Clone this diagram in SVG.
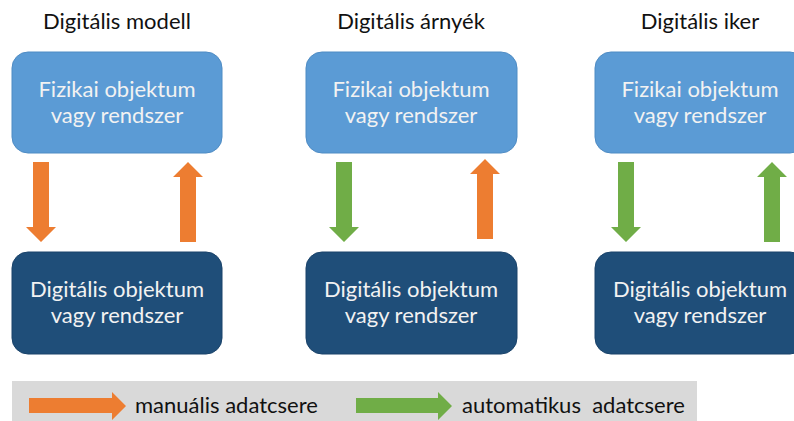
<svg xmlns="http://www.w3.org/2000/svg" width="794" height="421" viewBox="0 0 794 421">
<style>
.t{font-family:Lato,"Open Sans","Liberation Sans",sans-serif;font-size:22px;text-anchor:middle}
.title{fill:#111}
.light{fill:#5B9BD5;stroke:#4F8CC4;stroke-width:1}
.dark{fill:#1F4E79;stroke:#1A436A;stroke-width:1}
.wt{fill:#F2F2F2}
.or{fill:#ED7D31}
.gr{fill:#70AD47}
.lg{font-family:Lato,"Open Sans","Liberation Sans",sans-serif;font-size:22px;fill:#111}
</style>
<rect width="794" height="421" fill="#fff"/>
<g id="titles">
<text class="t title" x="117" y="29">Digitális modell</text>
<text class="t title" x="411" y="29">Digitális árnyék</text>
<text class="t title" x="700" y="29">Digitális iker</text>
</g>
<g id="phys1"><rect class="light" x="12" y="52" width="210" height="101" rx="16"/><text class="t wt" x="117" y="97">Fizikai objektum</text><text class="t wt" x="117" y="123">vagy rendszer</text></g>
<g id="phys2"><rect class="light" x="306" y="52" width="211" height="101" rx="16"/><text class="t wt" x="411" y="97">Fizikai objektum</text><text class="t wt" x="411" y="123">vagy rendszer</text></g>
<g id="phys3"><rect class="light" x="595" y="52" width="211" height="101" rx="16"/><text class="t wt" x="700" y="97">Fizikai objektum</text><text class="t wt" x="700" y="123">vagy rendszer</text></g>
<g id="dig1"><rect class="dark" x="12" y="252" width="210" height="102" rx="16"/><text class="t wt" x="117" y="297">Digitális objektum</text><text class="t wt" x="117" y="323">vagy rendszer</text></g>
<g id="dig2"><rect class="dark" x="306" y="252" width="211" height="102" rx="16"/><text class="t wt" x="411" y="297">Digitális objektum</text><text class="t wt" x="411" y="323">vagy rendszer</text></g>
<g id="dig3"><rect class="dark" x="595" y="252" width="211" height="102" rx="16"/><text class="t wt" x="700" y="297">Digitális objektum</text><text class="t wt" x="700" y="323">vagy rendszer</text></g>
<g id="connectors">
<polygon class="or" points="33,162 49,162 49,227 56,227 41,242 26,227 33,227"/>
<polygon class="or" points="180,242 196,242 196,177 203,177 188,162 173,177 180,177"/>
<polygon class="gr" points="336,162 352,162 352,227 359,227 344,242 329,227 336,227"/>
<polygon class="or" points="477,239 493,239 493,174 500,174 485,159 470,174 477,174"/>
<polygon class="gr" points="618,162 634,162 634,227 641,227 626,242 611,227 618,227"/>
<polygon class="gr" points="764,242 780,242 780,177 787,177 772,162 757,177 764,177"/>
</g>
<g id="legend">
<rect x="12" y="381" width="685" height="40" fill="#D9D9D9"/>
<polygon class="or" points="29,398 112,398 112,392 126,406 112,420 112,413 29,413"/>
<text class="lg" x="135" y="413">manuális adatcsere</text>
<polygon class="gr" points="356,398 438,398 438,392 452,406 438,420 438,413 356,413"/>
<text class="lg" x="462" y="413" xml:space="preserve">automatikus  adatcsere</text>
</g>
</svg>
